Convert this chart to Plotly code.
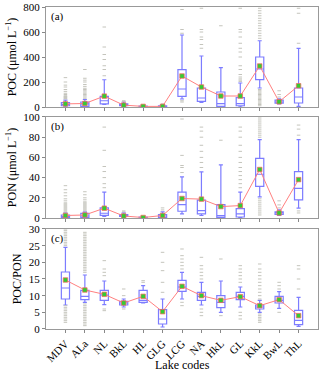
import plotly.graph_objects as go
from plotly.subplots import make_subplots

lakes = ['MDV', 'ALa', 'NL', 'BkL', 'HL', 'GLG', 'LCG', 'NA', 'HkL', 'GL', 'KkL', 'BwL', 'ThL']

# (a) POC (umol/L)
poc_low = [0, 0, 20, 5, 1, 1, 64, 37, 0, 0, 152, 25, 5]
poc_q1 = [10, 5, 25, 10, 3, 3, 85, 45, 5, 10, 219, 30, 32]
poc_med = [20, 25, 50, 15, 5, 5, 144, 72, 27, 27, 304, 40, 80]
poc_q3 = [35, 40, 85, 25, 8, 10, 299, 152, 120, 75, 400, 55, 152]
poc_high = [55, 60, 218, 40, 12, 20, 576, 408, 315, 192, 530, 65, 469]
poc_mean = [25, 28, 87, 15, 5, 5, 248, 160, 88, 88, 328, 42, 170]
poc_out = [
    [65, 70, 75, 80, 85, 90, 100, 110, 125, 140, 160, 175, 200, 235],
    [70, 80, 90, 100, 110, 120, 130, 140, 150, 165, 180, 200, 215, 230, 300],
    [250, 300, 330, 380, 420, 480, 640],
    [45, 50],
    [],
    [25],
    [40, 50, 590, 620, 780],
    [470, 500, 540, 560, 600, 620, 790],
    [650],
    [205, 215, 225, 240, 260, 300, 330, 400, 440, 470, 510, 560, 600, 620, 790],
    [10, 20, 30, 40, 50, 60, 70, 80, 90, 100, 110, 120, 130, 140, 550, 570, 590, 610,
     630, 650, 670, 690, 710, 730, 750, 770, 790],
    [80, 100, 130],
    [510, 750, 790],
]

# (b) PON (umol/L)
pon_low = [0.1, 0.1, 1.5, 1, 0.2, 0.3, 4, 2.5, 0.2, 0.3, 21, 2.5, 9.7]
pon_q1 = [0.5, 0.5, 2.7, 1.5, 0.3, 0.5, 6.7, 4, 0.7, 1, 31.3, 3.5, 18]
pon_med = [1.5, 2, 4.7, 2, 0.5, 2, 13.3, 7.3, 2.3, 4, 43.3, 5, 29.3]
pon_q3 = [3, 4.5, 10, 3.5, 0.8, 3.5, 25.7, 17.7, 13.3, 9.3, 59, 6, 46]
pon_high = [5, 6, 25.7, 5, 1.2, 6, 40.7, 45.7, 52.7, 25.7, 77.7, 8, 77.7]
pon_mean = [2.5, 3, 9.7, 2, 0.5, 2.5, 19.3, 18.7, 11.3, 12.3, 48, 5, 38]
pon_out = [
    [6, 7, 8, 9, 10, 11, 12, 13, 14, 15, 17, 19, 22, 25, 28, 32],
    [7, 8, 9, 10, 11, 12, 13, 14, 15, 16, 18, 20, 23, 26],
    [30, 34, 40, 46, 51, 67, 90],
    [6, 7],
    [],
    [8, 10],
    [45, 50, 52, 62, 98],
    [50, 55, 60, 66, 72, 80, 86, 90],
    [77],
    [30, 34, 38, 42, 46, 50, 55, 60, 66, 72, 80, 86, 90],
    [3, 5, 7, 9, 11, 13, 15, 17, 19, 80, 82, 84, 86, 88, 90, 92, 94, 96, 98, 100],
    [10, 13, 17],
    [5, 7, 82, 88, 92],
]

# (c) POC/PON
ratio_low = [7.2, 8, 7.3, 6.6, 7.8, 0.6, 9, 7.2, 5, 6.6, 5, 6.2, 0.8]
ratio_q1 = [9, 8.8, 8.6, 7.2, 8, 1.5, 11.3, 8.6, 6.4, 8.8, 6, 7.8, 1.3]
ratio_med = [12.3, 9.8, 10.2, 7.8, 8.6, 3, 12.6, 9.8, 8, 9.8, 6.6, 8.6, 2.6]
ratio_q3 = [17.1, 11.6, 11.6, 8.3, 11.6, 5.8, 14.6, 11, 10, 11, 7.2, 9.8, 5.6]
ratio_high = [24.5, 16.2, 14.4, 9, 13, 9, 17, 14, 14.4, 12.6, 8.6, 11.2, 9.5]
ratio_mean = [14.7, 11.7, 10.4, 7.8, 9.8, 5.2, 12.8, 10, 8.6, 9.7, 7, 8.8, 4]
ratio_out = [
    [2, 2.5, 3, 3.5, 4, 4.5, 5, 5.5, 6, 6.5, 7, 25, 25.5, 26, 26.5, 27, 27.5, 28, 28.5,
     29, 29.5, 30],
    [1, 1.5, 2, 2.5, 3, 3.5, 4, 4.5, 5, 5.5, 6, 6.5, 7, 7.5, 17, 17.5, 18, 18.5, 19, 19.5,
     20, 20.5, 21, 21.5, 22, 22.5, 23, 23.5, 24, 24.5, 25, 25.5, 26, 26.5, 27, 27.5, 28,
     28.5, 29],
    [5.5, 6, 16, 17, 18, 20.5],
    [6, 10, 12],
    [14, 14.5],
    [11, 14, 17.5, 20, 23],
    [7, 8, 18, 19, 20, 21, 22, 24],
    [4, 5, 6, 15, 16, 17, 18, 19, 21.5],
    [4, 21],
    [3, 4, 5, 14, 15, 16, 17, 18, 19],
    [2, 2.5, 3, 3.5, 4, 4.5, 9, 10, 11, 12, 13, 14, 15, 16, 17, 18, 19.5],
    [5, 12, 13, 14],
    [12, 15, 18, 19],
]

panels = [
    (poc_low, poc_q1, poc_med, poc_q3, poc_high, poc_mean, poc_out),
    (pon_low, pon_q1, pon_med, pon_q3, pon_high, pon_mean, pon_out),
    (ratio_low, ratio_q1, ratio_med, ratio_q3, ratio_high, ratio_mean, ratio_out),
]

FONT = 'Liberation Serif'
BOX_BLUE = '#7c7cff'

fig = make_subplots(rows=3, cols=1, shared_xaxes=True)

for i, (low, q1, med, q3, high, mean, outs) in enumerate(panels):
    row = i + 1
    fig.add_trace(go.Box(
        x=lakes, q1=q1, median=med, q3=q3, lowerfence=low, upperfence=high,
        boxpoints=False, fillcolor='rgba(0,0,0,0)',
        line=dict(color=BOX_BLUE, width=1.2), whiskerwidth=0.5,
        showlegend=False, hoverinfo='skip'), row=row, col=1)

    # outliers as small gray dashes
    ox, oy = [], []
    for lake, vals in zip(lakes, outs):
        ox += [lake] * len(vals)
        oy += vals
    fig.add_trace(go.Scatter(
        x=ox, y=oy, mode='markers',
        marker=dict(symbol='line-ew', size=2.5, color='#c4c4bc',
                    line=dict(color='#c4c4bc', width=1)),
        showlegend=False), row=row, col=1)

    fig.add_trace(go.Scatter(
        x=lakes, y=mean, mode='lines+markers',
        line=dict(color='#ff8080', width=1),
        marker=dict(symbol='square', size=4.5, color='#33cc33',
                    line=dict(color='#ff6060', width=0.7)),
        showlegend=False), row=row, col=1)

domains = [[0.6894, 1.0], [0.3447, 0.6584], [0.0, 0.3106]]
ranges = [[0, 800], [0, 100], [0, 30]]
dticks = [200, 20, 5]
titles = ['POC (μmol L<sup>−1</sup>)', 'PON (μmol L<sup>−1</sup>)', 'POC/PON']
labels = ['(a)', '(b)', '(c)']

for i in range(3):
    row = i + 1
    fig.update_yaxes(
        domain=domains[i], range=ranges[i], dtick=dticks[i], automargin=False,
        title=dict(text=titles[i], font=dict(family=FONT, size=12, color='black'), standoff=4),
        ticks='outside', ticklen=3, tickcolor='#888', showgrid=False, zeroline=False,
        showline=True, linecolor='#999', linewidth=1, mirror=True,
        tickfont=dict(family=FONT, size=11, color='black'), row=row, col=1)
    fig.update_xaxes(
        type='category', categoryorder='array', categoryarray=lakes, range=[-1, 13],
        automargin=False,
        ticks='outside', ticklen=3, tickcolor='#888', showgrid=False,
        showline=True, linecolor='#999', linewidth=1, mirror=True,
        showticklabels=(row == 3), tickangle=-45,
        tickfont=dict(family=FONT, size=11, color='black'), row=row, col=1)
    fig.add_annotation(
        text=labels[i], xref='x domain' if i == 0 else f'x{row} domain',
        yref='y domain' if i == 0 else f'y{row} domain',
        x=0.01, y=0.99, xanchor='left', yanchor='top', showarrow=False,
        font=dict(family=FONT, size=11, color='black'))

# x axis title placed below the rotated tick labels
fig.add_annotation(
    text='Lake codes', xref='x3 domain', yref='paper', x=0.5, y=-0.112,
    yanchor='middle', showarrow=False, font=dict(family=FONT, size=12, color='black'))

fig.update_layout(
    width=320, height=374,
    margin=dict(l=46, r=2, t=7, b=45),
    plot_bgcolor='white', paper_bgcolor='white',
    boxgap=0.4,
    font=dict(family=FONT),
)

# drop the browser's default page margin so the figure sits at the window's corner
fig.write_html("out.html", config={'displayModeBar': False},
               post_script="document.body.style.margin = '0px';")
